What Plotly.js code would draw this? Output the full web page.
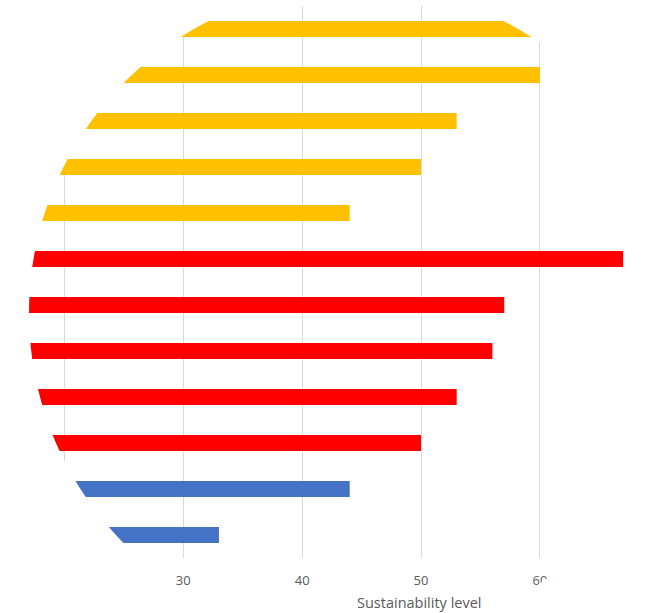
<!DOCTYPE html>
<html>
<head>
<meta charset="utf-8">
<script src="https://cdn.plot.ly/plotly-3.0.1.min.js"></script>
<style>html,body{margin:0;padding:0;background:#fff;}#chart{width:651px;height:613px;}</style>
</head>
<body>
<div id="chart"></div>
<script>
// ---- data ----
const categories = ['1','2','3','4','5','6','7','8','9','10','11','12'];
const yellowCats = ['1','2','3','4','5'];
const yellowVals = [60, 60, 53, 50, 44];
const redCats = ['6','7','8','9','10'];
const redVals = [67, 57, 56, 53, 50];
const blueCats = ['11','12'];
const blueVals = [44, 33];
const xTitle = 'Sustainability level';

// ---- layout geometry ----
const W = 651, H = 613;
const M = {l: 5, r: 16, t: 6, b: 55};
const pw = W - M.l - M.r, ph = H - M.t - M.b;

// circular mask (decoration): centre / radius in pixels
const cx = 356, cy = 313, R = 327;
function px2paper(X, Y) { return [(X - M.l) / pw, 1 - (Y - M.t) / ph]; }
let path = '';
const c1 = px2paper(-20, -20), c2 = px2paper(W + 20, H + 20);
path += 'M' + c1[0] + ',' + c1[1] + ' L' + c2[0] + ',' + c1[1] + ' L' + c2[0] + ',' + c2[1] + ' L' + c1[0] + ',' + c2[1] + ' Z ';
const N = 180;
for (let i = 0; i <= N; i++) {
  const a = 2 * Math.PI * i / N;
  const p = px2paper(cx + R * Math.cos(a), cy + R * Math.sin(a));
  path += (i === 0 ? 'M' : 'L') + p[0] + ',' + p[1] + ' ';
}
path += 'Z';

const traces = [
  {type: 'bar', orientation: 'h', y: yellowCats, x: yellowVals, marker: {color: '#FFC000'}, hoverinfo: 'x'},
  {type: 'bar', orientation: 'h', y: redCats, x: redVals, marker: {color: '#FF0000'}, hoverinfo: 'x'},
  {type: 'bar', orientation: 'h', y: blueCats, x: blueVals, marker: {color: '#4472C4'}, hoverinfo: 'x'}
];

const titlePos = px2paper(419, 602);

const layout = {
  width: W, height: H,
  margin: M,
  paper_bgcolor: '#ffffff', plot_bgcolor: '#ffffff',
  showlegend: false,
  barmode: 'overlay',
  bargap: 0.65,
  font: {family: 'Open Sans, Noto Sans, sans-serif', color: '#595959'},
  xaxis: {
    range: [15, 68], tick0: 0, dtick: 10,
    showgrid: true, gridcolor: '#d9d9d9', gridwidth: 1,
    zeroline: false, showline: false, ticks: '',
    ticklabelstandoff: 13,
    tickfont: {size: 13, color: '#595959'}
  },
  yaxis: {
    type: 'category', categoryorder: 'array', categoryarray: categories,
    autorange: 'reversed', showticklabels: false, showgrid: false,
    zeroline: false, showline: false, ticks: ''
  },
  annotations: [{
    text: xTitle, xref: 'paper', yref: 'paper', x: titlePos[0], y: titlePos[1],
    xanchor: 'center', yanchor: 'middle', showarrow: false,
    font: {size: 14.5, color: '#595959'}
  }],
  shapes: [{
    type: 'path', xref: 'paper', yref: 'paper', path: path,
    fillcolor: '#ffffff', fillrule: 'evenodd', line: {width: 0}, layer: 'above'
  }]
};

Plotly.newPlot('chart', traces, layout, {displayModeBar: false, staticPlot: true});
</script>
</body>
</html>
